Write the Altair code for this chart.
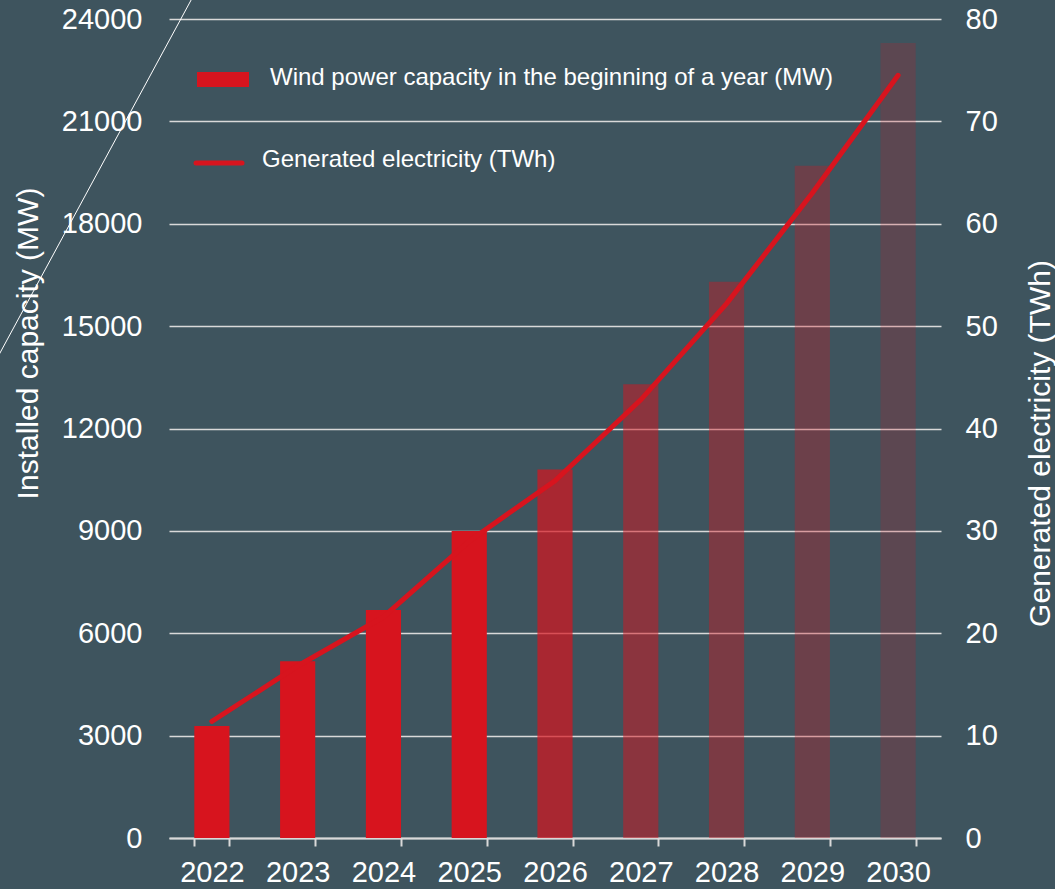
import altair as alt
import pandas as pd

# ---- data ----
years = ["2022", "2023", "2024", "2025", "2026", "2027", "2028", "2029", "2030"]
capacity_mw = [3280, 5180, 6680, 9000, 10800, 13300, 16300, 19700, 23300]
electricity_twh = [11.4, 16.8, 21.6, 29.0, 34.9, 42.8, 52.2, 63.0, 74.5]
left_ticks = [0, 3000, 6000, 9000, 12000, 15000, 18000, 21000, 24000]
right_ticks = [0, 10, 20, 30, 40, 50, 60, 70, 80]
bar_label = "Wind power capacity in the beginning of a year (MW)"
line_label = "Generated electricity (TWh)"
left_title = "Installed capacity (MW)"
right_title = "Generated electricity (TWh)"

df = pd.DataFrame({"year": years, "capacity": capacity_mw, "electricity": electricity_twh})
one = pd.DataFrame({"k": [0]})

RED = "#d7141e"
BG = "#3e545e"
GRID = "#d9d9d9"
FONT = "Liberation Sans"

x_scale = alt.Scale(paddingInner=0.59, paddingOuter=0.295)
x_axis = alt.Axis(
    labelAngle=0, labelFontSize=29, labelColor="white", labelPadding=12,
    domainColor=GRID, domainWidth=2, tickColor=GRID, tickWidth=2, tickSize=8,
    tickBand="extent", grid=False,
)

bars = alt.Chart(df).mark_bar(color=RED).encode(
    x=alt.X("year:O", title=None, scale=x_scale, axis=x_axis),
    y=alt.Y(
        "capacity:Q",
        scale=alt.Scale(domain=[0, 24000]),
        axis=alt.Axis(
            orient="left", values=left_ticks, format="d", grid=True,
            gridColor=GRID, gridWidth=1.5, domain=False, ticks=False, tickSize=0,
            labelPadding=27, labelFontSize=29, labelColor="white",
            title=left_title, titleFontSize=30, titleColor="white",
            titleFontWeight="normal", titleX=-141, titleY=324, titleAngle=270,
            titleAlign="center", titleBaseline="middle",
        ),
    ),
    opacity=alt.Opacity(
        "year:O",
        scale=alt.Scale(type="ordinal", domain=years,
                        range=[1, 1, 1, 1, 0.7, 0.5, 0.4, 0.3, 0.2]),
        legend=None,
    ),
)

line = alt.Chart(df).mark_line(color=RED, strokeWidth=5, strokeCap="round").encode(
    x=alt.X("year:O", title=None, scale=x_scale, axis=x_axis),
    y=alt.Y(
        "electricity:Q",
        scale=alt.Scale(domain=[0, 80]),
        axis=alt.Axis(
            orient="right", values=right_ticks, format="d", grid=False,
            domain=False, ticks=False, tickSize=0, labelPadding=24,
            labelFontSize=29, labelColor="white",
            title=right_title, titleFontSize=30, titleColor="white",
            titleFontWeight="normal", titleX=99, titleY=424, titleAngle=270,
            titleAlign="center", titleBaseline="middle",
        ),
    ),
)

leg_rect = alt.Chart(one).mark_rect(color=RED).encode(
    x=alt.value(28), x2=alt.value(80), y=alt.value(53), y2=alt.value(68)
)
leg_line = alt.Chart(one).mark_rule(color=RED, strokeWidth=5, strokeCap="round").encode(
    x=alt.value(27), x2=alt.value(73), y=alt.value(144), y2=alt.value(144)
)
leg_text1 = alt.Chart(one).mark_text(
    text=bar_label, align="left", baseline="middle", fontSize=24, color="white", font=FONT
).encode(x=alt.value(101), y=alt.value(59))
leg_text2 = alt.Chart(one).mark_text(
    text=line_label, align="left", baseline="middle", fontSize=24, color="white", font=FONT
).encode(x=alt.value(93), y=alt.value(141))

diag = alt.Chart(one).mark_rule(color="white", strokeWidth=1).encode(
    x=alt.value(27), y=alt.value(-28), x2=alt.value(-175), y2=alt.value(345)
)

chart = (
    alt.layer(bars, line, leg_rect, leg_line, leg_text1, leg_text2, diag)
    .resolve_scale(y="independent")
    .properties(
        width=772, height=819,
        autosize=alt.AutoSizeParams(type="none"),
        padding={"left": 169, "top": 19, "right": 114, "bottom": 51},
        background=BG,
    )
    .configure_view(stroke=None)
    .configure_axis(labelFont=FONT, titleFont=FONT)
)

chart.save("out.html", embed_options={"renderer": "svg", "actions": False})
